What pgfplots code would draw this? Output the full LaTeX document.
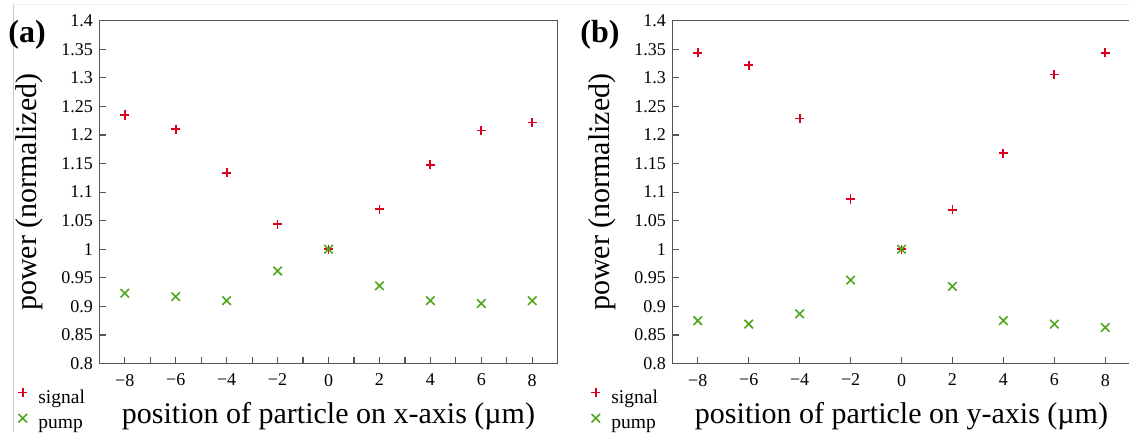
\documentclass[border=0pt]{standalone}
\usepackage{fontspec}
\setmainfont{Liberation Serif}
\usepackage{pgfplots}
\pgfplotsset{compat=1.18}
\definecolor{sigred}{RGB}{218,0,30}
\definecolor{pumpgreen}{RGB}{80,165,30}
\definecolor{axgray}{RGB}{85,85,85}

\pgfplotsset{
 myaxis/.style={
  scale only axis, width=458.4pt, height=342.8pt,
  anchor=south west,
  xmin=-9,xmax=9,ymin=0.8,ymax=1.4,
  xtick={-8,-6,-4,-2,0,2,4,6,8},
  xticklabels={−8,−6,−4,−2,0,2,4,6,8},
  ytick={0.8,0.85,0.9,0.95,1,1.05,1.1,1.15,1.2,1.25,1.3,1.35,1.4},
  yticklabels={0.8,0.85,0.9,0.95,1,1.05,1.1,1.15,1.2,1.25,1.3,1.35,1.4},
  tick pos=left, tick align=inside,
  major tick length=6.5pt, minor tick length=6.5pt,
  axis line style={axgray, line width=1.2pt},
  tick style={axgray, line width=1.2pt},
  tick label style={font=\fontsize{18}{18}\selectfont, text=black},
  xticklabel style={yshift=-7pt},
  yticklabel style={xshift=-3pt},
  label style={font=\fontsize{30}{30}\selectfont},
  xlabel style={at={(axis description cs:0.5,0)}, anchor=base, yshift=-59.5pt},
  ylabel style={at={(axis description cs:-0.1534,0.5)}, anchor=center},
  legend style={draw=none, fill=none, inner sep=0pt,
    at={(axis description cs:-0.1774,-0.0706)}, anchor=north west,
    font=\fontsize{19.5}{19.5}\selectfont,
    nodes={inner sep=0pt, text height=14pt, text depth=5pt},
    row sep=6pt, column sep=11pt},
  legend cell align=left,
  legend image code/.code={\draw[##1] plot coordinates {(4.5pt,6pt)};},
 },
 sig/.style={only marks, mark=+, mark size=4.6pt, sigred, line width=1.8pt},
 pmp/.style={only marks, mark=x, mark size=6pt, pumpgreen, line width=1.6pt},
}

\pgfplotstableread{
x sig pump
-8 1.235 0.923
-6 1.210 0.917
-4 1.134 0.910
-2 1.044 0.962
0 1.000 1.000
2 1.070 0.936
4 1.148 0.910
6 1.208 0.905
8 1.222 0.910
}\dataA

\pgfplotstableread{
x sig pump
-8 1.344 0.875
-6 1.322 0.869
-4 1.229 0.887
-2 1.088 0.946
0 1.000 1.000
2 1.069 0.935
4 1.168 0.875
6 1.306 0.869
8 1.344 0.863
}\dataB

\begin{document}
\begin{tikzpicture}[x=1pt,y=1pt]
\useasboundingbox (0pt,0pt) rectangle (1129pt,432pt);
\draw[black!22, line width=1pt] (13.3pt,0pt) -- (13.3pt,427pt);
\draw[black!6, line width=1pt] (13.3pt,427pt) -- (1129pt,427pt);

\begin{axis}[myaxis, at={(99.3pt,68.5pt)},
  minor x tick num=1,
  xlabel={position of particle on x-axis (µm)},
  ylabel={power (normalized)}]
\addplot[sig] table[x=x,y=sig] {\dataA};
\addlegendentry{signal}
\addplot[pmp] table[x=x,y=pump] {\dataA};
\addlegendentry{pump}
\end{axis}
\node[font=\bfseries\fontsize{32}{32}\selectfont] at (27pt,397pt) {(a)};

\begin{axis}[myaxis, at={(672.3pt,68.5pt)},
  xlabel={position of particle on y-axis (µm)},
  ylabel={power (normalized)}]
\addplot[sig] table[x=x,y=sig] {\dataB};
\addlegendentry{signal}
\addplot[pmp] table[x=x,y=pump] {\dataB};
\addlegendentry{pump}
\end{axis}
\node[font=\bfseries\fontsize{32}{32}\selectfont] at (600pt,397pt) {(b)};
\end{tikzpicture}
\end{document}
